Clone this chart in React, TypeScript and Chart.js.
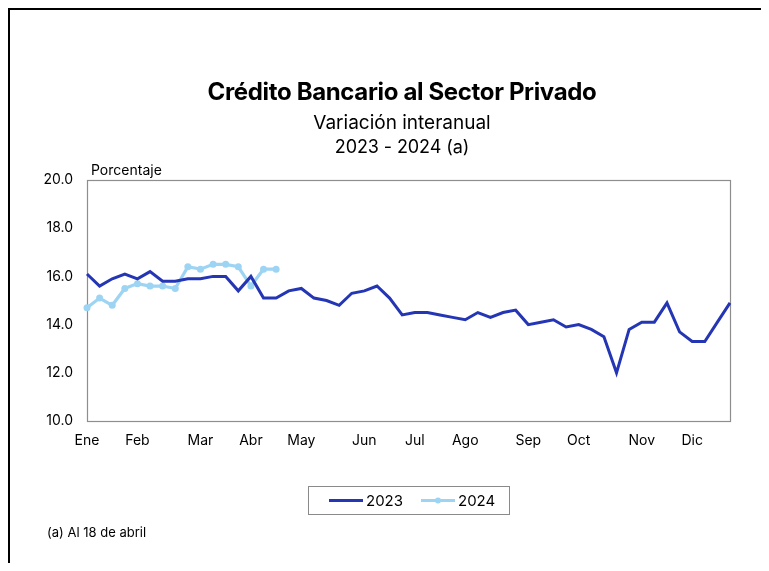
import React, { useEffect, useRef } from "react";
import { Chart, registerables } from "chart.js";

Chart.register(...registerables);

const monthNames = ["Ene", "Feb", "Mar", "Abr", "May", "Jun", "Jul", "Ago", "Sep", "Oct", "Nov", "Dic"];
const monthWeekIndex = [0, 4, 9, 13, 17, 22, 26, 30, 35, 39, 44, 48];
const weekCount = 52;

const values2023 = [
  16.1, 15.6, 15.9, 16.1, 15.9, 16.2, 15.8, 15.8, 15.9, 15.9,
  16.0, 16.0, 15.4, 16.0, 15.1, 15.1, 15.4, 15.5, 15.1, 15.0,
  14.8, 15.3, 15.4, 15.6, 15.1, 14.4, 14.5, 14.5, 14.4, 14.3,
  14.2, 14.5, 14.3, 14.5, 14.6, 14.0, 14.1, 14.2, 13.9, 14.0,
  13.8, 13.5, 12.0, 13.8, 14.1, 14.1, 14.9, 13.7, 13.3, 13.3,
  14.1, 14.9,
];
const values2024 = [
  14.7, 15.1, 14.8, 15.5, 15.7, 15.6, 15.6, 15.5, 16.4, 16.3,
  16.5, 16.5, 16.4, 15.6, 16.3, 16.3,
];

const seriesNames = ["2023", "2024"];
const yTicks = [10, 12, 14, 16, 18, 20];

const titleText = "Crédito Bancario al Sector Privado";
const subtitleLines = ["Variación interanual", "2023 - 2024 (a)"];
const yAxisTitle = "Porcentaje";
const footnote = "(a) Al 18 de abril";

const COLOR_2023 = "#2436b4";
const COLOR_2024 = "#9dd4f4";
const FONT = "Inter, 'Noto Sans', sans-serif";

const labels: string[] = [];
for (let i = 0; i < weekCount; i++) {
  const m = monthWeekIndex.indexOf(i);
  labels.push(m >= 0 ? monthNames[m] : "");
}

const decor = {
  id: "decor",
  beforeDatasetsDraw(chart: any) {
    const { ctx, chartArea } = chart;
    const { left, top, right, bottom } = chartArea;
    ctx.save();
    ctx.strokeStyle = "#8e8e8e";
    ctx.lineWidth = 1.2;
    ctx.strokeRect(Math.round(left) + 0.5, Math.round(top) + 0.5, Math.round(right - left), Math.round(bottom - top));
    ctx.restore();
  },
  afterDraw(chart: any) {
    const { ctx, chartArea } = chart;
    ctx.save();
    ctx.fillStyle = "#000";
    ctx.textBaseline = "alphabetic";
    // Title
    ctx.textAlign = "center";
    ctx.font = `bold 24px ${FONT}`;
    (ctx as any).letterSpacing = "-0.35px";
    ctx.fillText(titleText, 392, 90);
    (ctx as any).letterSpacing = "0px";
    ctx.font = `19px ${FONT}`;
    ctx.fillText(subtitleLines[0], 392, 119);
    (ctx as any).letterSpacing = "-0.1px";
    ctx.font = `18px ${FONT}`;
    ctx.fillText(subtitleLines[1], 392, 143);
    (ctx as any).letterSpacing = "0px";
    // axis title
    ctx.textAlign = "left";
    ctx.font = `14px ${FONT}`;
    ctx.fillText(yAxisTitle, chartArea.left + 4, chartArea.top - 5);
    // footnote
    ctx.font = `13px ${FONT}`;
    ctx.textBaseline = "middle";
    ctx.fillText(footnote, 37, 523);

    // legend
    const bx = 298.5, by = 476.5, bw = 201, bh = 28;
    ctx.strokeStyle = "#8a8a8a";
    ctx.lineWidth = 1;
    ctx.strokeRect(bx, by, bw, bh);
    const ly = by + bh / 2;
    const items = [
      { x: 319, color: COLOR_2023, marker: false, text: seriesNames[0] },
      { x: 411, color: COLOR_2024, marker: true, text: seriesNames[1] },
    ];
    ctx.font = `15px ${FONT}`;
    ctx.textBaseline = "middle";
    ctx.textAlign = "left";
    for (const it of items) {
      ctx.strokeStyle = it.color;
      ctx.lineWidth = 3;
      ctx.beginPath();
      ctx.moveTo(it.x, ly);
      ctx.lineTo(it.x + 34, ly);
      ctx.stroke();
      if (it.marker) {
        ctx.fillStyle = it.color;
        ctx.beginPath();
        ctx.arc(it.x + 17, ly, 3, 0, Math.PI * 2);
        ctx.fill();
      }
      ctx.fillStyle = "#000";
      ctx.fillText(it.text, it.x + 37, ly + 1);
    }
    ctx.restore();
  },
};

export default function App() {
  const canvasRef = useRef<HTMLCanvasElement | null>(null);

  useEffect(() => {
    document.body.style.overflow = "hidden";
    const canvas = canvasRef.current;
    if (!canvas) return;
    const chart = new Chart(canvas, {
      type: "line",
      data: {
        labels,
        datasets: [
          {
            label: seriesNames[0],
            data: values2023,
            borderColor: COLOR_2023,
            backgroundColor: COLOR_2023,
            borderWidth: 3,
            pointRadius: 0,
            tension: 0,
          },
          {
            label: seriesNames[1],
            data: values2024,
            borderColor: COLOR_2024,
            backgroundColor: COLOR_2024,
            borderWidth: 3.2,
            pointRadius: 3.5,
            pointBorderWidth: 0,
            tension: 0,
          },
        ],
      },
      options: {
        animation: false,
        responsive: false,
        maintainAspectRatio: false,
        layout: { padding: { left: 0, top: 170, right: 39, bottom: 102 } },
        plugins: {
          legend: { display: false },
          title: { display: false },
          tooltip: { enabled: false },
        },
        scales: {
          x: {
            type: "category",
            offset: false,
            grid: { display: false, drawTicks: false },
            border: { display: false },
            ticks: {
              autoSkip: false,
              maxRotation: 0,
              minRotation: 0,
              padding: 11,
              color: "#000",
              font: { family: FONT, size: 14 },
            },
            afterFit(scale: any) {
              scale.height = 40;
            },
          },
          y: {
            min: 10,
            max: 20,
            grid: { display: false, drawTicks: false },
            border: { display: false },
            afterBuildTicks(scale: any) {
              scale.ticks = yTicks.map((v) => ({ value: v }));
            },
            ticks: {
              padding: 14,
              color: "#000",
              font: { family: FONT, size: 14 },
              callback: (v: any) => Number(v).toFixed(1),
            },
            afterFit(scale: any) {
              scale.width = 77;
            },
          },
        },
      },
      plugins: [decor],
    });
    return () => chart.destroy();
  }, []);

  return (
    <div
      style={{
        boxSizing: "border-box",
        width: 761,
        height: 555,
        borderTop: "2px solid #000",
        borderLeft: "2px solid #000",
        overflow: "hidden",
        background: "#fff",
      }}
    >
      <canvas ref={canvasRef} width={759} height={553} style={{ display: "block", width: 759, height: 553 }} />
    </div>
  );
}
